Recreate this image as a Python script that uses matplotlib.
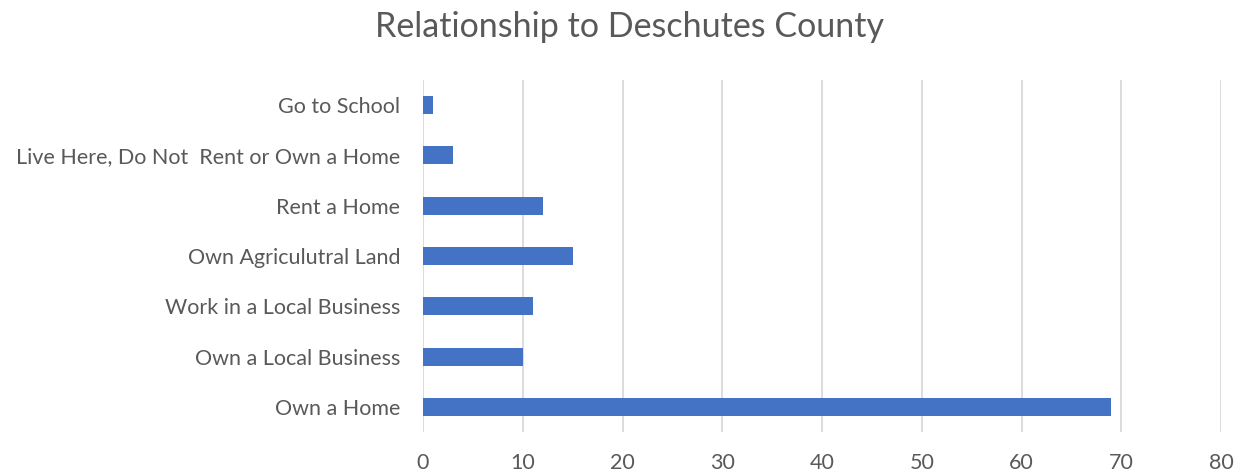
import matplotlib
matplotlib.use("Agg")
import matplotlib.pyplot as plt

categories = ["Own a Home", "Own a Local Business", "Work in a Local Business",
              "Own Agriculutral Land", "Rent a Home",
              "Live Here, Do Not  Rent or Own a Home", "Go to School"]
values = [69, 10, 11, 15, 12, 3, 1]
xticks = [0, 10, 20, 30, 40, 50, 60, 70, 80]

plt.rcParams['font.family'] = ['Lato', 'DejaVu Sans']
txt = '#595959'

fig = plt.figure(figsize=(12.42, 4.76), dpi=100)
ax = fig.add_axes([0.3406, 0.0924, 0.6425, 0.7396])
ax.barh(range(len(categories)), values, height=0.36, color='#4472C4', zorder=3)
ax.set_ylim(-0.5, len(categories) - 0.5)
ax.set_xlim(0, 80)
ax.set_xticks(xticks)
ax.set_yticks(range(len(categories)))
ax.set_yticklabels(categories, fontsize=15.5, color=txt)
ax.tick_params(axis='x', labelsize=15.5, colors=txt, length=0, pad=15)
ax.tick_params(axis='y', length=0, pad=16.5)
ax.grid(axis='x', color='#D9D9D9', linewidth=1.3, zorder=0)
for s in ax.spines.values():
    s.set_visible(False)
fig.text(0.5065, 0.943, "Relationship to Deschutes County", ha='center', va='center',
         fontsize=24.5, color=txt)
fig.savefig("out.png", dpi=100)
